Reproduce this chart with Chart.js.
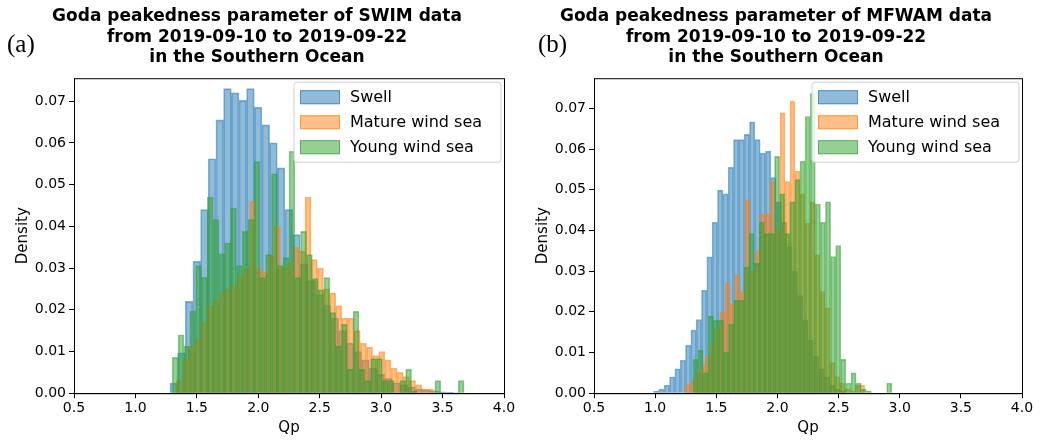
<!DOCTYPE html>
<html>
<head>
<meta charset="utf-8">
<script src="https://cdn.jsdelivr.net/npm/chart.js@4"></script>
<style>
  body { margin:0; background:#fff; width:1055px; height:443px; position:relative; overflow:hidden; }
  .panel { position:absolute; top:0; width:527px; height:443px; }
  .tag { position:absolute; top:30px; font-family:"Liberation Serif"; font-size:25px; color:#000; }
</style>
</head>
<body>
<div class="panel" style="left:0"><canvas id="chartA"></canvas></div>
<div class="panel" style="left:527px"><canvas id="chartB"></canvas></div>
<div class="tag" style="left:7px">(a)</div>
<div class="tag" style="left:538px">(b)</div>
<script>
// ---------------- data : SWIM (a) ----------------
const seriesNames = ['Swell', 'Mature wind sea', 'Young wind sea'];

const swimSwellStart = 1.281, swimSwellBin = 0.0624;
const swimSwell = [0.0024,0.0097,0.022,0.0316,0.044,0.0562,0.0655,0.073,0.072,0.0702,0.073,0.0685,0.0643,0.060,0.054,0.044,0.038,0.031,0.027,0.0236,0.021,0.018,0.015,0.012,0.010,0.008,0.006,0.0045,0.0035,0.0025,0.002,0.0015,0.001,0.0008,0.0005,0.0003,0.0002,0.0001];

const swimMatureStart = 1.33, swimMatureBin = 0.05;
const swimMature = [0.003,0.008,0.011,0.013,0.017,0.021,0.022,0.024,0.025,0.026,0.028,0.030,0.046,0.030,0.029,0.033,0.040,0.030,0.031,0.035,0.034,0.047,0.032,0.030,0.025,0.024,0.021,0.018,0.018,0.015,0.012,0.011,0.009,0.010,0.008,0.006,0.005,0.004,0.003,0.002,0.001,0.001];

const swimYoungStart = 1.30, swimYoungBin = 0.0475;
const swimYoung = [0.0086,0.014,0.0113,0.0197,0.0306,0.0278,0.047,0.0416,0.0334,0.036,0.0444,0.0306,0.0388,0.0416,0.0555,0.0277,0.0332,0.0526,0.0306,0.0325,0.058,0.0277,0.0388,0.0332,0.0275,0.0248,0.0277,0.0193,0.0113,0.0165,0.0057,0.0196,0.0057,0.003,0.0083,0.0083,0.003,0.003,0,0.003,0.0057,0.0005,0,0,0,0.003,0,0,0,0.003];

// ---------------- data : MFWAM (b) ----------------
const mfSwellStart = 0.987, mfSwellBin = 0.0436;
const mfSwell = [0.0005,0.001,0.002,0.004,0.006,0.0081,0.0118,0.0155,0.0181,0.0253,0.0335,0.042,0.0499,0.049,0.0555,0.0623,0.0623,0.0636,0.0667,0.0623,0.059,0.0595,0.053,0.047,0.042,0.036,0.030,0.024,0.018,0.013,0.009,0.006,0.004,0.002,0.001,0.0005];

const mfMatureStart = 1.246, mfMatureBin = 0.0408;
const mfMature = [0.002,0.003,0.005,0.007,0.009,0.012,0.016,0.020,0.027,0.022,0.029,0.025,0.0476,0.030,0.035,0.044,0.044,0.052,0.040,0.0689,0.052,0.0718,0.0546,0.049,0.0418,0.047,0.034,0.025,0.021,0.0075,0.004,0.0025,0.001,0.0005,0.002,0.002];

const mfYoungStart = 1.309, mfYoungBin = 0.0417;
const mfYoung = [0.0083,0.0106,0.005,0.019,0.0179,0.0179,0.0101,0.017,0.0228,0.0228,0.031,0.0392,0.0319,0.042,0.0392,0.0392,0.0582,0.049,0.0392,0.047,0.0525,0.057,0.068,0.0736,0.0465,0.042,0.047,0.0336,0.0363,0.0083,0.0025,0.005,0.0025,0.001,0.0005,0,0,0,0.0025];

const xTicks = [0.5,1.0,1.5,2.0,2.5,3.0,3.5,4.0];
const yTicks = [0,0.01,0.02,0.03,0.04,0.05,0.06,0.07];

const colors = ['31,119,180', '255,127,14', '44,160,44'];
const FONT = "'DejaVu Sans'";

function toBins(start, width, values) {
    return values.map((v, i) => ({x: start + width * (i + 0.5), y: v}));
}

// frame + legend inside plot
const framePlugin = {
    id: 'frame',
    afterDraw(chart) {
        const a = chart.chartArea, c = chart.ctx;
        c.save();
        c.strokeStyle = '#000'; c.lineWidth = 1;
        c.strokeRect(a.left + 0.5, a.top + 0.5, a.right - a.left, a.bottom - a.top);
        // legend
        const w = 207, h = 80, lx = a.right - w - 3, ly = a.top + 4;
        c.fillStyle = 'rgba(255,255,255,0.8)';
        c.strokeStyle = '#d0d0d0';
        c.beginPath(); c.roundRect(lx, ly, w, h, 3); c.fill(); c.stroke();
        c.font = '16px ' + FONT; c.textBaseline = 'middle'; c.fillStyle = '#000';
        seriesNames.forEach((n, i) => {
            const yy = ly + 15 + i * 25;
            c.fillStyle = 'rgba(' + colors[i] + ',0.5)';
            c.fillRect(lx + 6, yy - 7, 40, 14);
            c.strokeStyle = 'rgba(' + colors[i] + ',0.6)';
            c.strokeRect(lx + 6.5, yy - 6.5, 39, 13);
            c.fillStyle = '#000';
            c.fillText(n, lx + 56, yy + 1);
        });
        c.restore();
    }
};

function makeChart(id, titleLines, sets, ymax, padL, padR) {
    const hidden = {type: 'linear', min: 0.5, max: 4.0, display: false, offset: false};
    new Chart(document.getElementById(id), {
        type: 'bar',
        data: {
            datasets: sets.map((s, i) => ({
                label: seriesNames[i],
                data: toBins(s[0], s[1], s[2]),
                xAxisID: ['x', 'x2', 'x3'][i],
                order: 3 - i,
                backgroundColor: 'rgba(' + colors[i] + ',0.5)',
                borderColor: 'rgba(' + colors[i] + ',0.55)',
                borderWidth: 1,
                barPercentage: 1, categoryPercentage: 1,
                grouped: false
            }))
        },
        options: {
            responsive: false, animation: false,
            devicePixelRatio: 1,
            layout: {padding: {left: padL, right: padR, top: 0, bottom: 2}},
            plugins: {
                legend: {display: false}, tooltip: {enabled: false},
                title: {display: true, text: titleLines, color: '#000',
                        font: {family: FONT, size: 17, weight: 'bold', lineHeight: 1.22},
                        padding: {top: 6, bottom: 10}}
            },
            scales: {
                x: {type: 'linear', min: 0.5, max: 4.0, offset: false,
                    afterBuildTicks: s => { s.ticks = xTicks.map(v => ({value: v})); },
                    ticks: {color: '#000', font: {family: FONT, size: 14}, padding: 2,
                            callback: v => v.toFixed(1)},
                    grid: {drawOnChartArea: false, color: '#000', tickLength: 5, offset: false},
                    border: {color: '#000'},
                    title: {display: true, text: 'Qp', color: '#000', font: {family: FONT, size: 15}, padding: {top: 0}}},
                x2: hidden, x3: hidden,
                y: {min: 0, max: ymax,
                    afterBuildTicks: s => { s.ticks = yTicks.map(v => ({value: v})); },
                    afterFit: s => { s.width = 64; },
                    ticks: {color: '#000', font: {family: FONT, size: 14}, padding: 3,
                            callback: v => v.toFixed(2)},
                    grid: {drawOnChartArea: false, color: '#000', tickLength: 5},
                    border: {color: '#000'},
                    title: {display: true, text: 'Density', color: '#000', font: {family: FONT, size: 15}, padding: {bottom: 2}}}
            }
        },
        plugins: [framePlugin]
    });
}

function sizeCanvas(id) { const c = document.getElementById(id); c.width = 527; c.height = 443; }
sizeCanvas('chartA'); sizeCanvas('chartB');

makeChart('chartA',
    ['Goda peakedness parameter of SWIM data', 'from 2019-09-10 to 2019-09-22', 'in the Southern Ocean'],
    [[swimSwellStart, swimSwellBin, swimSwell], [swimMatureStart, swimMatureBin, swimMature], [swimYoungStart, swimYoungBin, swimYoung]],
    0.0755, 10, 23);
makeChart('chartB',
    ['Goda peakedness parameter of MFWAM data', 'from 2019-09-10 to 2019-09-22', 'in the Southern Ocean'],
    [[mfSwellStart, mfSwellBin, mfSwell], [mfMatureStart, mfMatureBin, mfMature], [mfYoungStart, mfYoungBin, mfYoung]],
    0.0774, 3, 32);
</script>
</body>
</html>
